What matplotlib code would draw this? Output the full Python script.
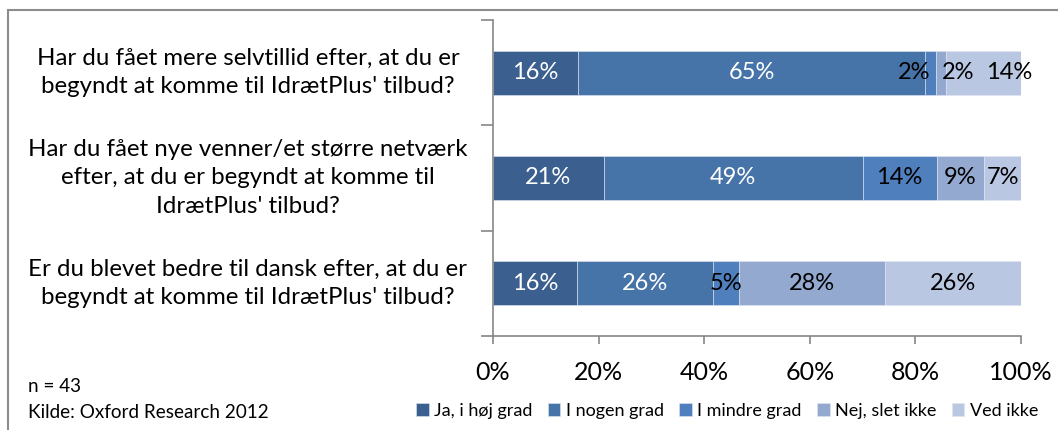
import matplotlib
matplotlib.use("Agg")
import matplotlib.pyplot as plt
import matplotlib.transforms as mtransforms
from matplotlib.patches import Rectangle
import numpy as np

plt.rcParams['font.family'] = ['Lato', 'DejaVu Sans']

# questions (top to bottom)
questions = [
    "Har du fået mere selvtillid efter, at du er\nbegyndt at komme til IdrætPlus' tilbud?",
    "Har du fået nye venner/et større netværk\nefter, at du er begyndt at komme til\nIdrætPlus' tilbud?",
    "Er du blevet bedre til dansk efter, at du er\nbegyndt at komme til IdrætPlus' tilbud?",
]
answers = ["Ja, i høj grad", "I nogen grad", "I mindre grad", "Nej, slet ikke", "Ved ikke"]

# percentages per answer, rows top to bottom
ja_hoej = [16, 21, 16]
nogen = [65, 49, 26]
mindre = [2, 14, 5]
nej = [2, 9, 28]
ved_ikke = [14, 7, 26]

series = [ja_hoej, nogen, mindre, nej, ved_ikke]
colors = ["#3b5f8e", "#4673a8", "#4f80bd", "#94a9d0", "#b9c7e2"]
txt_colors = ["white", "white", "black", "black", "black"]

fig = plt.figure(figsize=(10.58, 4.30), dpi=100)
ax = fig.add_axes([493 / 1058, 1 - 336 / 430, 528 / 1058, 316 / 430])

data = np.array(series, dtype=float)
shares = data / data.sum(axis=0) * 100  # 100% stacked

y = np.arange(len(questions))
left = np.zeros(len(questions))
all_labels = []
for vals, raw, col, tc, name in zip(shares, data, colors, txt_colors, answers):
    bars = ax.barh(y, vals, left=left, height=0.42, color=col, edgecolor="#dfe6f0",
                   linewidth=0.4, label=name)
    txts = ax.bar_label(bars, labels=[f"{v:.0f}%" for v in raw], label_type="center",
                        color=tc, fontsize=17)
    all_labels.append(txts)
    left += vals

# nudge the crowded labels of the first row apart (pixels)
for si, dx in [(2, -12), (3, 12), (4, 18)]:
    t = all_labels[si][0]
    t.xyann = (t.xyann[0] + dx, t.xyann[1])

ax.set_xlim(0, 100)
ax.set_ylim(len(questions) - 0.5, -0.5)
ax.set_xticks(np.arange(0, 101, 20))
ax.set_xticklabels([f"{v}%" for v in range(0, 101, 20)], fontsize=18)
ax.set_yticks(np.arange(-0.5, len(questions), 1.0))
ax.set_yticklabels([])
ax.tick_params(axis="x", length=6, width=1.2, color="#868686", pad=12)
ax.tick_params(axis="y", length=9, width=1.2, color="#868686")
for s in ["top", "right"]:
    ax.spines[s].set_visible(False)
for s in ["left", "bottom"]:
    ax.spines[s].set_color("#868686")
    ax.spines[s].set_linewidth(1.2)

# question texts, centred to the left of the axis
trans = mtransforms.blended_transform_factory(fig.transFigure, ax.transData)
for yi, q in zip(y, questions):
    ax.text(248 / 1058, yi, q, transform=trans, ha="center", va="center",
            multialignment="center", fontsize=17.3, linespacing=1.45)

# legend
fig.legend(loc="center left", bbox_to_anchor=(416 / 1058, 1 - 411 / 430), ncol=5,
           frameon=False, fontsize=13, handlelength=0.7, handleheight=0.7,
           handletextpad=0.3, columnspacing=0.85, borderaxespad=0, borderpad=0)

fig.text(28 / 1058, 1 - 386 / 430, "n = 43", fontsize=13.6, va="center")
fig.text(28 / 1058, 1 - 412 / 430, "Kilde: Oxford Research 2012", fontsize=13.6, va="center")

# outer chart frame (cropped at right and bottom)
fig.patches.append(Rectangle((8 / 1058, -0.1), 1.2, 1 - 10 / 430 + 0.1, transform=fig.transFigure,
                             fill=False, edgecolor="#8c8c8c", linewidth=1.5))

fig.savefig("out.png", dpi=100)
